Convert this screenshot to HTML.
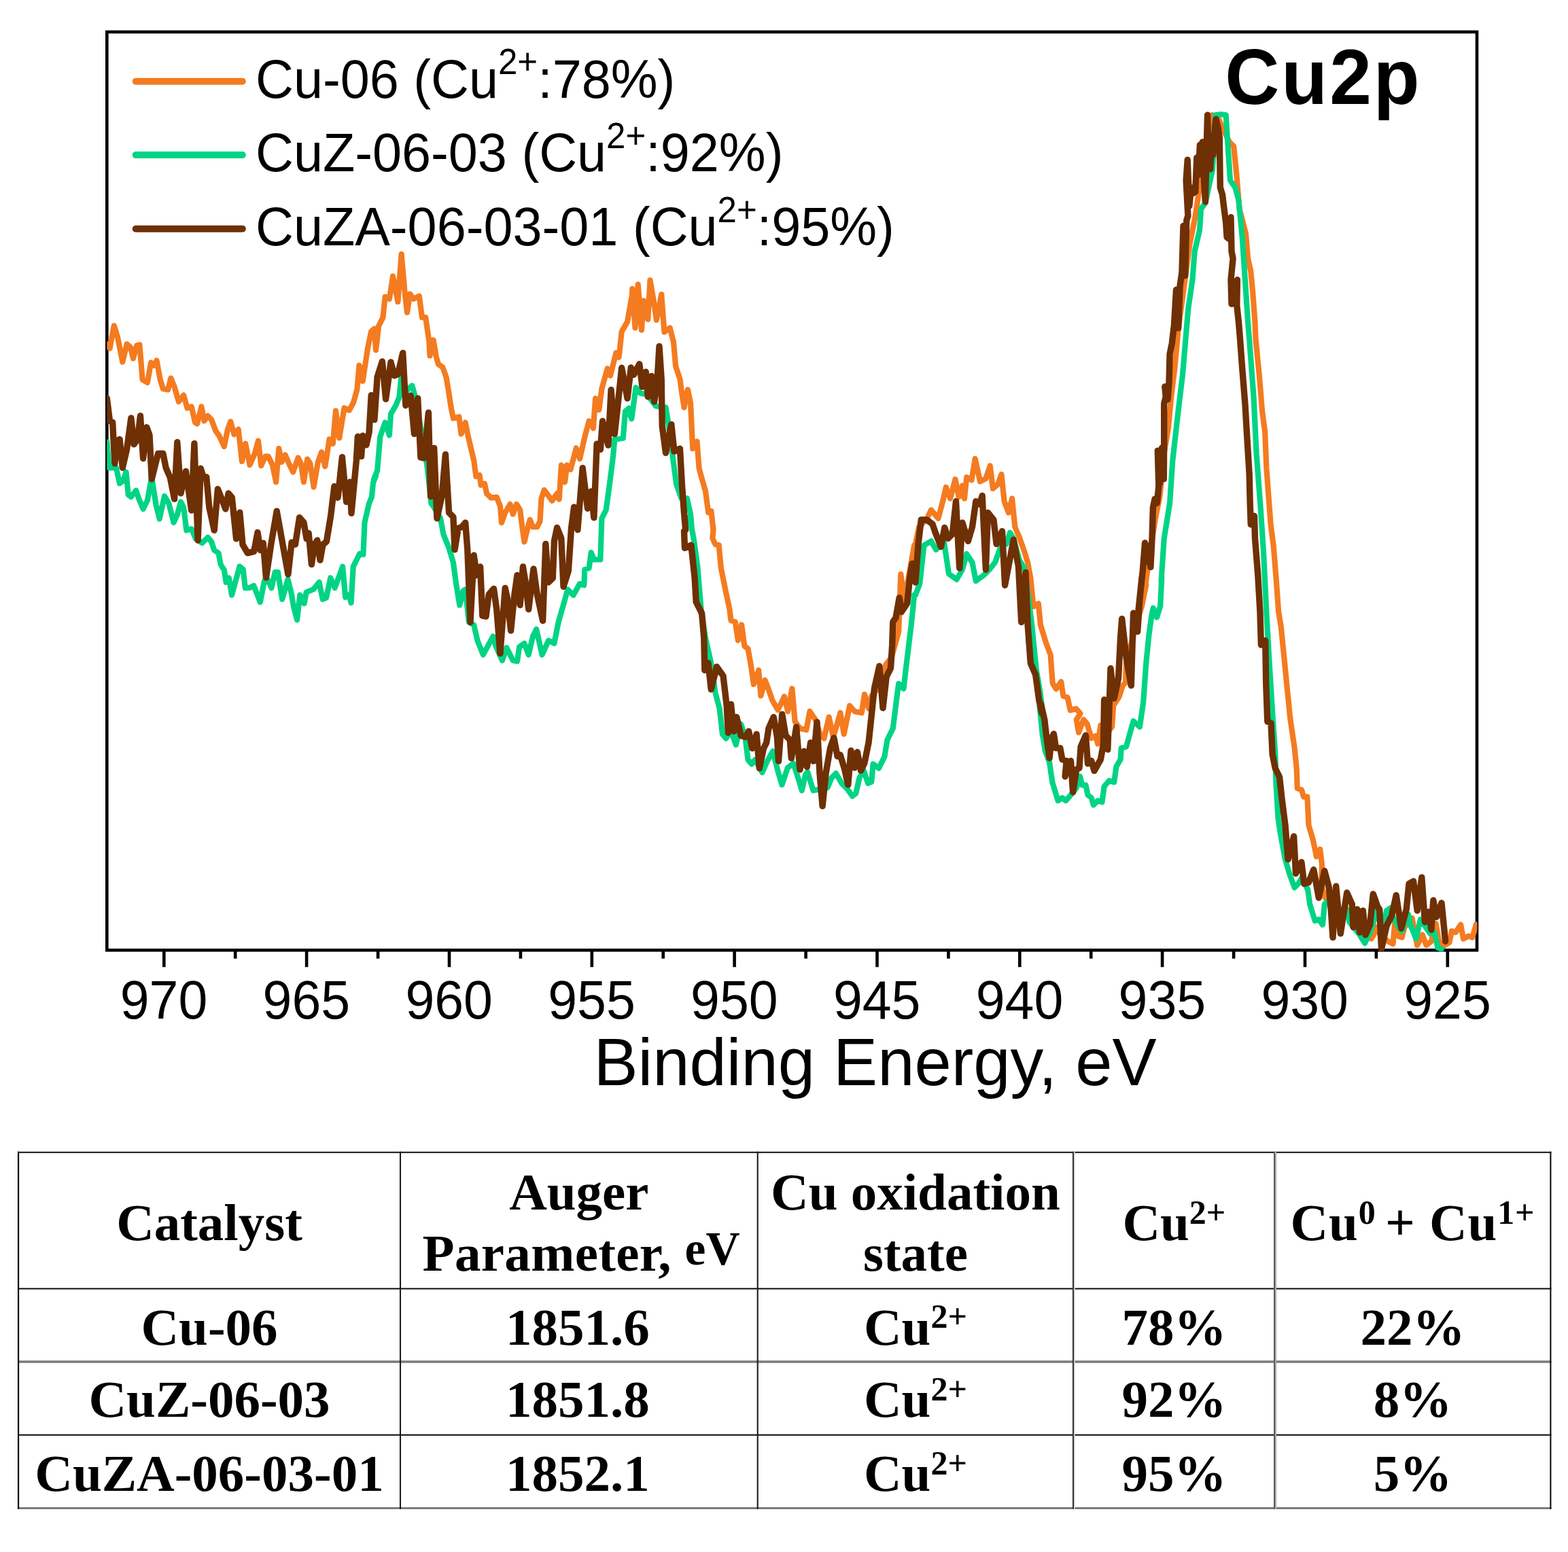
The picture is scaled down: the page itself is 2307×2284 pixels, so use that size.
<!DOCTYPE html>
<html lang="en"><head><meta charset="utf-8"><title>Cu2p XPS spectra</title>
<style>
html,body{margin:0;padding:0;background:#fff;}
body{width:2307px;height:2284px;position:relative;overflow:hidden;font-family:"Liberation Sans",sans-serif;}
#chart{position:absolute;left:0;top:0;}
#chart text{font-family:"Liberation Sans",sans-serif;fill:#000;}
table{position:absolute;left:27px;top:1695.9px;border-collapse:collapse;border-spacing:0;table-layout:fixed;width:2254.4px;
 font-family:"Liberation Serif",serif;font-weight:bold;font-size:77px;color:#000;}
td,th{border:0;text-align:center;vertical-align:top;padding:0;font-weight:bold;line-height:90.2px;white-space:nowrap;overflow:visible}
th.one{padding-top:58.6px} th.two{padding-top:12.8px}
td:nth-child(2){text-indent:-4px}
tr.r1 td{padding-top:11.2px} tr.r2 td{padding-top:10.3px} tr.r3 td{padding-top:11.2px}
sup{font-size:50px;line-height:0;vertical-align:baseline;position:relative;top:-24.4px}
.ev{font-size:69.5px;position:relative;top:-8.5px}
.ls{letter-spacing:0.35px;position:relative;left:3.5px} .ls2{letter-spacing:0.9px}
</style></head><body>
<svg id="chart" width="2307" height="2284" viewBox="0 0 2307 2284">
<defs><clipPath id="plot"><rect x="157.3" y="47.0" width="2016.2" height="1353.6"/></clipPath></defs>
<rect x="157.3" y="47.0" width="2015.7" height="1351.3" fill="none" stroke="#000" stroke-width="4.6"/>
<g stroke="#000" stroke-width="4.6"><line x1="2129.8" y1="1398.3" x2="2129.8" y2="1423.2"/><line x1="1920.0" y1="1398.3" x2="1920.0" y2="1423.2"/><line x1="1710.1" y1="1398.3" x2="1710.1" y2="1423.2"/><line x1="1500.3" y1="1398.3" x2="1500.3" y2="1423.2"/><line x1="1290.5" y1="1398.3" x2="1290.5" y2="1423.2"/><line x1="1080.6" y1="1398.3" x2="1080.6" y2="1423.2"/><line x1="870.8" y1="1398.3" x2="870.8" y2="1423.2"/><line x1="661.0" y1="1398.3" x2="661.0" y2="1423.2"/><line x1="451.1" y1="1398.3" x2="451.1" y2="1423.2"/><line x1="241.3" y1="1398.3" x2="241.3" y2="1423.2"/><line x1="346.2" y1="1398.3" x2="346.2" y2="1410.7"/><line x1="556.1" y1="1398.3" x2="556.1" y2="1410.7"/><line x1="765.9" y1="1398.3" x2="765.9" y2="1410.7"/><line x1="975.7" y1="1398.3" x2="975.7" y2="1410.7"/><line x1="1185.6" y1="1398.3" x2="1185.6" y2="1410.7"/><line x1="1395.4" y1="1398.3" x2="1395.4" y2="1410.7"/><line x1="1605.2" y1="1398.3" x2="1605.2" y2="1410.7"/><line x1="1815.1" y1="1398.3" x2="1815.1" y2="1410.7"/><line x1="2024.9" y1="1398.3" x2="2024.9" y2="1410.7"/></g>
<g id="curves" clip-path="url(#plot)">
<path d="M157.3,506.5 L161.5,512.7 L167.8,479.3 L173.0,496.0 L180.3,532.6 L186.6,506.5 L191.8,510.6 L196.0,527.4 L201.2,508.5 L205.4,507.5 L209.6,558.7 L216.9,562.9 L222.1,533.6 L226.3,537.8 L230.5,530.5 L235.7,558.7 L239.9,572.3 L247.2,573.4 L251.4,556.6 L256.6,569.2 L262.9,591.1 L270.2,581.7 L275.5,600.5 L281.7,598.5 L287.0,621.5 L290.1,623.5 L296.4,598.5 L300.5,619.4 L305.8,612.0 L311.0,617.3 L317.3,634.0 L322.5,641.3 L329.8,657.0 L335.0,631.9 L339.2,620.4 L344.5,639.2 L350.7,631.9 L356.0,679.0 L361.2,652.8 L367.5,684.2 L374.8,667.5 L380.0,648.6 L384.2,685.2 L390.5,671.6 L394.6,671.6 L400.9,684.2 L406.1,709.3 L410.3,660.1 L414.5,680.0 L419.7,669.6 L426.0,684.2 L431.2,694.6 L438.6,673.7 L442.7,682.1 L446.9,709.3 L452.1,675.8 L456.3,682.1 L461.6,716.6 L467.8,680.0 L473.1,665.4 L478.3,686.3 L484.6,646.5 L489.8,652.8 L494.0,604.7 L499.2,644.5 L506.5,600.5 L513.8,603.7 L520.1,592.2 L525.3,573.4 L528.5,537.8 L533.7,560.8 L541.0,512.7 L546.2,487.6 L550.9,483.8 L553.0,515.2 L557.2,479.6 L563.5,467.1 L566.6,436.8 L572.9,439.9 L578.1,406.5 L585.4,444.1 L590.6,374.0 L595.9,433.6 L599.0,459.8 L603.2,432.6 L608.4,439.9 L616.8,435.7 L621.0,467.1 L626.2,467.1 L631.4,502.6 L632.5,523.5 L637.7,500.5 L641.9,525.6 L645.0,536.1 L651.3,540.3 L656.5,554.9 L660.7,580.0 L663.8,600.9 L667.0,615.6 L675.3,613.5 L678.5,638.6 L684.7,621.8 L688.9,642.7 L697.3,678.3 L700.4,701.3 L705.6,699.2 L707.7,713.8 L713.0,711.7 L716.1,726.4 L722.4,732.6 L730.7,731.6 L736.0,745.2 L738.0,769.2 L743.2,754.5 L750.5,742.0 L754.7,756.6 L760.0,742.0 L765.2,750.4 L768.3,775.5 L771.5,797.4 L776.7,775.5 L779.8,765.0 L784.0,775.5 L790.3,775.5 L794.5,767.1 L796.5,733.6 L800.7,721.1 L812.3,736.8 L819.6,726.4 L822.7,734.7 L825.9,684.6 L831.1,709.6 L834.2,684.6 L839.5,690.8 L847.8,659.5 L853.1,675.1 L860.4,642.7 L866.6,619.7 L872.9,630.2 L876.1,586.3 L881.3,603.0 L885.5,571.6 L893.8,542.4 L898.0,552.8 L906.4,519.4 L910.6,525.6 L914.7,488.0 L923.1,473.4 L930.0,433.6 L930.3,425.0 L934.5,482.5 L938.7,418.7 L943.9,485.6 L947.0,442.7 L953.3,469.9 L956.5,412.4 L961.7,442.7 L965.9,471.0 L973.2,433.3 L977.4,488.7 L985.7,482.5 L991.0,503.4 L994.1,538.9 L1000.4,557.7 L1003.5,580.7 L1006.6,599.6 L1011.9,573.4 L1016.0,593.3 L1019.2,660.2 L1025.5,649.7 L1028.6,689.5 L1033.8,708.3 L1038.0,722.9 L1042.2,754.3 L1046.4,752.2 L1049.5,780.0 L1048.3,791.8 L1052.5,801.2 L1057.7,802.3 L1060.8,835.7 L1067.1,867.1 L1073.4,896.4 L1075.5,913.1 L1081.7,915.2 L1085.9,942.4 L1091.1,919.4 L1095.3,950.7 L1100.5,954.9 L1104.7,977.9 L1108.9,1007.2 L1116.2,986.3 L1119.4,1023.9 L1125.6,1000.9 L1131.9,1017.6 L1136.1,1030.2 L1144.5,1044.8 L1150.7,1032.3 L1153.9,1025.0 L1159.1,1046.9 L1165.4,1013.5 L1169.6,1061.6 L1176.9,1072.0 L1186.3,1074.1 L1191.5,1046.9 L1199.9,1059.5 L1207.2,1082.5 L1212.4,1086.6 L1219.7,1055.3 L1226.0,1084.6 L1236.5,1049.0 L1241.7,1080.4 L1250.1,1038.6 L1257.4,1046.9 L1267.8,1049.0 L1272.0,1021.8 L1278.3,1042.7 L1282.5,1023.9 L1292.9,1011.4 L1303.4,977.9 L1311.7,967.5 L1322.2,929.8 L1325.3,845.1 L1330.6,883.8 L1338.9,837.8 L1345.2,802.3 L1346.9,800.5 L1352.1,775.5 L1363.6,764.0 L1369.9,750.4 L1380.4,762.9 L1386.6,739.9 L1391.9,716.9 L1398.1,733.6 L1405.5,705.4 L1410.7,731.5 L1415.9,714.8 L1419.0,733.6 L1422.2,702.3 L1429.5,706.5 L1434.7,675.1 L1442.0,708.5 L1450.4,704.4 L1456.7,685.5 L1460.9,719.0 L1468.2,712.7 L1473.4,698.1 L1477.6,737.8 L1483.9,754.5 L1489.1,733.6 L1493.3,775.5 L1499.6,790.1 L1506.9,811.0 L1512.1,827.7 L1516.3,850.7 L1520.5,892.6 L1527.8,888.4 L1530.9,919.7 L1539.3,946.9 L1545.6,963.6 L1548.7,1005.5 L1553.9,1013.8 L1561.2,1003.4 L1564.4,1024.3 L1570.6,1026.4 L1574.8,1045.2 L1583.2,1043.1 L1589.5,1050.0 L1583.8,1059.1 L1587.0,1077.9 L1594.3,1059.1 L1599.5,1065.4 L1605.8,1086.3 L1612.0,1083.1 L1615.2,1094.6 L1619.4,1067.5 L1627.7,1080.0 L1636.1,1069.6 L1638.2,1038.2 L1646.5,1025.6 L1651.8,1008.9 L1656.0,1004.7 L1657.0,973.4 L1665.4,944.1 L1671.6,919.0 L1680.0,891.8 L1686.3,860.5 L1685.5,859.6 L1691.8,813.6 L1700.2,761.4 L1706.5,730.0 L1712.7,667.3 L1719.0,629.6 L1723.2,583.6 L1728.4,541.8 L1733.6,485.0 L1742.0,422.3 L1750.4,359.6 L1758.7,317.7 L1764.0,282.2 L1771.3,234.1 L1777.5,192.3 L1783.8,169.3 L1792.2,173.5 L1800.5,192.3 L1808.9,209.0 L1815.2,215.3 L1819.4,257.1 L1823.5,307.3 L1833.0,343.9 L1836.1,380.5 L1840.3,399.3 L1843.4,432.7 L1846.5,474.6 L1847.6,500.0 L1852.8,552.3 L1857.0,604.5 L1861.2,635.9 L1863.3,688.2 L1869.6,771.8 L1873.7,803.2 L1877.9,855.5 L1881.1,900.0 L1884.7,921.8 L1888.9,963.6 L1894.1,1015.9 L1898.3,1057.7 L1904.5,1099.6 L1907.7,1130.9 L1908.7,1160.2 L1915.0,1162.3 L1918.1,1172.7 L1923.4,1172.7 L1925.5,1214.6 L1931.7,1235.5 L1937.0,1260.6 L1942.2,1249.7 L1945.0,1272.3 L1944.1,1300.5 L1948.8,1319.4 L1955.4,1328.8 L1961.0,1345.7 L1966.7,1338.2 L1972.3,1347.6 L1981.7,1338.2 L1989.3,1347.6 L1996.8,1353.2 L2004.3,1357.0 L2010.0,1360.8 L2014.7,1368.3 L2017.5,1381.5 L2021.2,1375.8 L2025.0,1364.5 L2030.7,1375.8 L2041.9,1385.2 L2049.5,1389.0 L2052.3,1357.0 L2057.0,1377.7 L2062.7,1379.6 L2066.4,1364.5 L2077.7,1351.4 L2085.2,1390.9 L2092.8,1375.8 L2098.4,1390.9 L2105.9,1385.2 L2112.5,1358.9 L2117.2,1385.2 L2122.9,1392.8 L2132.3,1387.1 L2136.0,1370.2 L2141.7,1372.1 L2149.2,1360.8 L2153.0,1381.5 L2160.5,1377.7 L2166.2,1379.6 L2171.8,1360.8" fill="none" stroke="#F47B20" stroke-width="8.2" stroke-linejoin="round" stroke-linecap="round"/>
<path d="M157.3,650.7 L160.5,688.4 L166.7,688.4 L170.9,688.4 L176.1,711.4 L181.4,707.2 L185.5,694.6 L188.7,728.1 L192.9,731.2 L200.2,721.8 L204.4,734.4 L210.6,749.0 L216.9,736.5 L223.2,702.0 L229.5,742.7 L234.7,763.6 L242.0,730.2 L248.3,740.6 L255.6,768.9 L260.8,757.4 L266.0,738.6 L270.2,746.9 L274.4,780.4 L281.7,778.3 L288.0,792.9 L297.4,799.2 L305.8,790.8 L311.0,797.1 L315.2,809.6 L321.5,813.8 L324.6,830.6 L329.8,838.9 L332.6,856.8 L336.8,850.5 L341.0,875.6 L352.5,833.8 L357.7,838.0 L360.8,865.2 L367.1,865.2 L373.4,862.0 L382.8,886.1 L389.0,854.7 L394.3,853.7 L399.5,865.2 L404.7,842.2 L408.9,842.2 L415.2,881.9 L423.5,852.6 L428.8,873.5 L431.9,892.4 L437.1,912.2 L441.3,875.6 L447.6,888.2 L450.7,871.5 L461.2,867.3 L469.6,856.8 L474.8,881.9 L480.0,879.8 L486.3,850.5 L492.6,865.2 L504.1,833.8 L508.2,878.8 L513.5,875.6 L516.6,887.1 L519.7,833.8 L529.1,815.0 L534.4,816.0 L536.5,769.0 L542.7,741.8 L546.9,731.4 L549.0,710.5 L553.2,700.0 L549.9,705.5 L555.1,692.9 L559.3,642.7 L566.6,621.8 L572.9,640.6 L575.0,609.3 L582.3,596.7 L587.5,584.2 L590.6,550.7 L595.9,580.0 L601.1,571.6 L606.3,567.5 L610.5,582.1 L616.8,617.6 L622.0,646.9 L628.3,684.6 L634.5,741.0 L634.5,739.9 L648.1,762.9 L652.3,785.9 L660.6,806.8 L666.9,827.7 L671.1,859.1 L676.3,890.5 L681.5,869.6 L684.7,867.5 L689.9,915.6 L697.2,919.7 L702.5,942.7 L710.8,963.6 L725.5,936.5 L729.6,951.1 L739.0,972.0 L745.3,953.2 L754.7,972.0 L761.0,973.1 L764.1,952.1 L771.5,946.9 L777.7,963.6 L784.0,936.5 L789.2,926.0 L797.6,963.6 L807.0,942.7 L815.4,946.9 L821.6,915.6 L830.0,886.3 L835.2,867.5 L843.6,875.8 L853.0,859.1 L859.3,861.2 L860.3,838.2 L866.6,836.1 L869.7,813.1 L873.9,823.5 L883.3,823.5 L885.4,762.9 L891.7,750.4 L896.9,712.7 L902.1,670.9 L904.3,646.9 L916.8,644.8 L920.0,605.1 L925.2,600.9 L925.1,604.8 L929.3,616.3 L935.5,570.3 L941.8,578.6 L952.3,580.7 L964.8,597.5 L979.5,599.6 L983.6,624.6 L989.9,672.7 L995.1,712.5 L1002.5,733.4 L1010.8,733.4 L1016.0,756.4 L1018.1,780.0 L1014.8,760.5 L1021.1,796.0 L1026.3,833.6 L1031.5,896.4 L1037.8,938.2 L1046.2,975.8 L1052.5,1019.7 L1058.7,1042.7 L1062.9,1080.4 L1068.1,1086.6 L1075.5,1076.2 L1082.8,1096.1 L1090.1,1065.7 L1096.4,1084.6 L1100.5,1118.0 L1105.8,1124.3 L1111.0,1118.0 L1121.5,1136.8 L1128.8,1120.1 L1137.1,1105.5 L1144.3,1134.0 L1150.5,1154.9 L1158.9,1129.8 L1167.3,1123.5 L1173.5,1142.4 L1179.8,1163.3 L1185.0,1140.3 L1188.2,1136.1 L1196.5,1163.3 L1209.1,1161.2 L1217.5,1159.1 L1223.7,1144.5 L1230.0,1138.2 L1238.4,1152.8 L1246.7,1161.2 L1254.1,1171.6 L1259.3,1167.5 L1264.5,1144.5 L1270.8,1134.0 L1277.1,1152.8 L1282.3,1150.7 L1284.6,1124.3 L1292.9,1130.6 L1301.3,1113.8 L1305.5,1088.7 L1313.8,1072.0 L1320.1,1021.8 L1322.2,1006.1 L1329.5,1013.5 L1332.6,986.3 L1341.0,917.3 L1345.2,875.5 L1346.9,875.8 L1353.2,859.1 L1359.5,802.6 L1369.9,796.4 L1377.2,808.9 L1388.7,796.4 L1396.0,844.5 L1407.5,852.8 L1415.9,838.2 L1422.2,815.2 L1430.5,827.7 L1435.8,854.9 L1447.3,846.5 L1455.6,838.2 L1464.0,827.7 L1472.4,804.7 L1480.7,800.5 L1486.0,783.8 L1491.2,792.2 L1499.6,823.5 L1507.9,838.2 L1518.4,921.8 L1524.6,984.6 L1530.9,1022.2 L1534.1,1050.0 L1529.5,1038.2 L1533.6,1080.0 L1537.8,1105.1 L1544.1,1121.8 L1548.3,1151.1 L1556.6,1178.3 L1562.9,1174.1 L1568.1,1178.3 L1575.5,1169.9 L1583.8,1159.5 L1589.0,1142.7 L1592.2,1155.3 L1597.4,1155.3 L1600.5,1169.9 L1605.8,1174.1 L1608.9,1184.6 L1615.2,1178.3 L1621.5,1180.4 L1624.6,1157.4 L1631.9,1149.0 L1639.2,1151.1 L1642.4,1128.1 L1648.6,1117.6 L1649.7,1100.9 L1657.0,1098.8 L1667.5,1061.2 L1676.9,1069.6 L1682.1,1034.0 L1686.3,975.5 L1690.5,933.6 L1694.6,904.4 L1696.7,895.0 L1702.0,908.5 L1707.2,891.8 L1709.3,850.0 L1708.5,855.5 L1712.7,792.7 L1721.1,740.5 L1725.3,677.7 L1733.6,604.5 L1739.9,552.3 L1748.3,453.6 L1754.5,411.8 L1757.7,370.0 L1765.0,338.6 L1767.1,307.3 L1773.4,298.9 L1779.6,269.6 L1783.8,250.8 L1785.9,223.6 L1788.0,169.3 L1796.4,168.2 L1803.7,169.3 L1805.8,202.7 L1807.9,234.1 L1810.0,265.5 L1817.3,275.9 L1822.5,294.7 L1827.7,349.1 L1831.9,411.8 L1836.1,474.6 L1838.2,500.0 L1844.5,583.6 L1848.6,667.3 L1854.9,750.9 L1859.1,813.6 L1863.3,900.0 L1866.9,963.6 L1872.1,1047.3 L1876.3,1110.0 L1877.4,1151.8 L1880.5,1204.1 L1883.6,1225.0 L1890.5,1262.9 L1897.0,1285.5 L1904.6,1306.2 L1910.2,1300.5 L1915.9,1291.1 L1924.3,1310.0 L1927.2,1330.7 L1934.7,1355.1 L1940.3,1353.2 L1946.0,1360.8 L1948.8,1330.7 L1952.6,1326.9 L1962.9,1338.2 L1981.7,1340.1 L1985.5,1357.0 L2000.5,1375.8 L2008.1,1388.1 L2015.6,1372.1 L2022.2,1353.2 L2024.1,1340.1 L2036.3,1357.0 L2040.1,1340.1 L2045.7,1336.3 L2049.5,1349.5 L2057.0,1362.7 L2062.7,1370.2 L2072.1,1345.7 L2075.8,1362.7 L2083.4,1381.5 L2089.9,1353.2 L2096.5,1362.7 L2104.1,1373.9 L2110.6,1372.1 L2115.3,1394.6 L2121.0,1396.5" fill="none" stroke="#00D484" stroke-width="8.2" stroke-linejoin="round" stroke-linecap="round"/>
<path d="M157.3,585.9 L161.5,619.4 L165.7,621.5 L168.8,682.1 L173.0,648.6 L176.1,646.5 L180.3,688.4 L186.6,661.2 L192.9,615.2 L197.0,653.9 L202.3,646.5 L206.5,612.0 L210.6,674.8 L215.9,628.8 L220.0,640.3 L223.2,705.1 L228.4,684.2 L232.6,667.5 L239.9,667.5 L244.1,688.4 L250.4,703.0 L256.6,734.4 L260.8,650.7 L266.0,726.0 L273.4,693.6 L277.5,721.8 L281.7,751.1 L285.9,652.8 L291.1,795.0 L295.3,689.4 L299.5,703.0 L303.7,702.0 L307.9,746.9 L315.2,780.4 L320.4,719.7 L324.6,730.2 L331.9,749.0 L336.1,726.0 L341.3,732.3 L347.6,792.9 L352.8,754.2 L357.0,801.3 L364.3,813.8 L373.7,811.7 L379.0,783.5 L383.1,809.6 L387.3,799.2 L391.5,850.0 L398.8,801.3 L407.2,752.1 L414.5,792.9 L423.9,845.2 L429.1,798.1 L434.4,801.3 L440.6,761.6 L446.9,768.9 L451.1,792.9 L454.2,784.6 L458.4,830.6 L462.6,801.3 L466.8,795.0 L471.0,824.3 L475.1,801.3 L480.4,797.1 L486.6,759.5 L491.9,715.6 L497.1,732.3 L503.4,672.7 L509.6,738.6 L514.9,709.3 L517.0,755.3 L524.3,677.9 L526.4,642.4 L531.6,671.6 L533.7,641.3 L538.9,654.9 L543.1,636.1 L546.2,581.7 L550.9,617.6 L555.1,554.9 L562.4,531.9 L567.6,587.3 L575.0,533.0 L580.2,552.8 L585.4,550.7 L592.7,519.4 L596.9,596.7 L604.2,582.1 L609.5,638.6 L614.7,586.3 L618.9,673.1 L624.1,674.1 L630.4,607.2 L633.5,730.6 L638.7,659.5 L642.9,762.9 L650.2,729.5 L655.4,668.8 L660.6,754.5 L666.9,760.8 L669.0,808.9 L674.2,777.5 L679.5,775.5 L684.7,769.2 L687.8,808.9 L692.0,915.6 L697.2,817.3 L701.4,846.5 L706.6,834.0 L709.8,906.1 L715.0,907.2 L719.2,874.8 L726.5,866.4 L730.7,896.7 L735.9,961.6 L743.2,865.4 L746.4,880.0 L751.6,928.1 L756.8,875.8 L761.0,846.5 L765.2,890.5 L769.4,834.0 L773.5,859.1 L777.7,896.7 L785.0,837.1 L790.3,874.8 L798.6,913.5 L802.8,800.5 L807.0,857.0 L813.3,850.7 L815.4,796.4 L819.6,776.5 L825.8,792.2 L829.0,863.3 L836.3,840.3 L840.5,777.5 L844.6,746.2 L849.9,779.6 L857.2,688.7 L864.5,748.3 L869.7,723.2 L873.9,761.9 L878.1,653.2 L883.4,661.6 L886.5,619.7 L894.9,655.3 L899.1,573.7 L904.3,638.6 L908.5,600.9 L914.7,541.3 L923.1,586.3 L928.3,541.3 L928.2,541.0 L932.4,551.5 L940.8,535.8 L945.0,569.2 L950.2,547.3 L953.3,583.9 L958.5,553.5 L962.7,591.2 L966.9,561.9 L970.0,509.6 L973.2,557.7 L974.2,626.7 L979.5,666.5 L987.8,624.6 L992.0,664.4 L1000.4,660.2 L1003.5,714.6 L1006.6,756.4 L1008.7,780.0 L1006.5,781.4 L1007.5,806.5 L1016.9,802.3 L1022.1,850.4 L1024.2,885.9 L1032.6,902.6 L1035.7,938.2 L1036.8,986.3 L1042.0,975.8 L1046.2,1014.5 L1054.5,981.1 L1064.0,994.6 L1069.2,1038.6 L1071.3,1078.3 L1075.5,1036.5 L1079.6,1076.2 L1083.8,1055.3 L1090.1,1082.5 L1096.4,1084.6 L1101.6,1076.2 L1106.8,1101.3 L1113.1,1080.4 L1117.3,1130.6 L1123.5,1101.3 L1127.7,1092.9 L1130.9,1072.0 L1138.2,1055.3 L1143.4,1084.6 L1145.5,1120.1 L1150.7,1051.1 L1156.0,1082.5 L1162.2,1088.7 L1164.3,1115.9 L1171.6,1069.9 L1176.9,1132.6 L1183.1,1105.5 L1187.3,1128.5 L1192.6,1092.9 L1196.7,1120.1 L1202.0,1062.6 L1206.0,1138.2 L1210.1,1186.3 L1215.4,1136.1 L1221.6,1100.5 L1226.9,1085.9 L1232.1,1113.1 L1236.3,1111.0 L1242.6,1131.9 L1247.8,1154.9 L1252.0,1104.7 L1257.2,1129.8 L1261.4,1106.8 L1266.6,1134.0 L1271.8,1123.5 L1278.1,1092.2 L1286.5,1012.7 L1293.8,980.3 L1299.0,1042.0 L1304.2,996.0 L1310.5,983.5 L1312.6,950.0 L1313.8,915.2 L1318.0,908.9 L1323.2,879.6 L1326.4,900.5 L1334.7,888.0 L1338.9,848.3 L1342.1,829.5 L1346.2,852.5 L1346.9,857.0 L1351.1,800.5 L1355.3,765.0 L1363.6,765.0 L1372.0,771.3 L1376.2,783.8 L1384.5,804.7 L1389.8,776.5 L1395.0,792.2 L1401.3,785.9 L1406.5,737.8 L1411.7,836.1 L1415.9,769.2 L1424.3,796.4 L1430.5,775.5 L1435.8,737.8 L1441.0,742.0 L1445.2,729.5 L1450.4,838.2 L1453.5,754.5 L1461.9,765.0 L1466.1,800.5 L1474.5,781.7 L1478.6,861.2 L1491.2,794.3 L1498.5,834.0 L1502.7,915.6 L1509.0,842.4 L1512.1,919.7 L1516.3,976.2 L1523.6,992.9 L1528.8,1030.6 L1533.0,1050.0 L1531.5,1036.1 L1536.8,1059.1 L1539.9,1086.3 L1544.1,1115.6 L1547.2,1086.3 L1550.4,1080.0 L1553.5,1100.9 L1559.8,1100.9 L1562.9,1117.6 L1569.2,1119.7 L1567.1,1142.7 L1575.5,1119.7 L1578.6,1165.7 L1583.8,1132.3 L1588.0,1130.2 L1590.1,1098.8 L1597.4,1082.1 L1600.5,1123.9 L1605.8,1119.7 L1610.0,1134.4 L1619.4,1117.6 L1623.5,1094.6 L1624.6,1029.8 L1629.8,1103.0 L1634.0,983.8 L1639.2,1027.7 L1645.5,998.5 L1648.6,937.8 L1650.7,910.6 L1657.0,967.1 L1664.3,1008.9 L1667.5,902.3 L1673.7,929.5 L1676.9,881.4 L1680.0,850.0 L1675.1,897.3 L1678.2,868.0 L1681.4,838.7 L1684.5,799.0 L1687.6,826.2 L1690.8,803.2 L1692.9,834.6 L1695.0,792.7 L1696.4,746.7 L1699.1,734.2 L1702.3,740.5 L1704.8,715.4 L1703.3,663.1 L1706.5,711.2 L1709.6,658.9 L1712.3,704.9 L1712.7,650.5 L1712.7,594.1 L1715.2,583.6 L1713.8,569.0 L1718.0,587.8 L1720.0,562.7 L1721.1,520.9 L1724.2,505.9 L1727.4,478.7 L1730.5,426.5 L1733.6,482.9 L1736.1,420.2 L1738.9,401.4 L1741.0,332.4 L1743.7,405.6 L1745.8,324.0 L1747.9,317.7 L1745.1,265.5 L1747.2,235.1 L1749.9,303.1 L1752.5,275.9 L1755.6,284.3 L1758.7,282.2 L1760.8,232.0 L1763.3,257.1 L1765.4,213.2 L1768.1,244.5 L1769.2,209.0 L1771.7,269.6 L1773.4,296.8 L1775.0,227.8 L1776.5,169.3 L1778.6,240.4 L1780.7,248.7 L1782.8,209.0 L1784.9,227.8 L1787.0,192.3 L1789.0,175.5 L1792.2,188.1 L1794.3,202.7 L1795.3,275.9 L1798.5,286.4 L1800.5,303.1 L1803.7,328.2 L1805.1,349.1 L1807.9,351.2 L1811.0,319.8 L1812.0,370.0 L1814.1,380.5 L1811.0,411.8 L1812.0,447.4 L1816.2,428.6 L1820.4,411.8 L1819.8,449.5 L1822.5,474.6 L1824.6,500.0 L1827.7,541.8 L1831.9,594.1 L1835.0,646.4 L1838.2,698.6 L1839.2,740.5 L1840.3,771.8 L1845.5,759.3 L1846.5,792.7 L1850.7,845.0 L1853.9,900.0 L1855.4,949.0 L1861.7,942.7 L1862.7,1005.5 L1864.8,1061.9 L1870.0,1064.0 L1872.1,1110.0 L1876.3,1130.9 L1882.6,1143.5 L1885.7,1172.7 L1891.0,1214.6 L1895.1,1264.7 L1903.6,1230.9 L1906.5,1285.5 L1914.9,1268.6 L1918.7,1300.5 L1925.3,1298.7 L1932.8,1279.8 L1940.3,1321.2 L1948.8,1281.7 L1955.4,1306.2 L1958.2,1338.2 L1961.0,1379.6 L1965.7,1304.3 L1972.3,1373.9 L1981.7,1313.7 L1989.3,1330.7 L1991.1,1364.5 L1996.8,1338.2 L2000.5,1372.1 L2005.3,1340.1 L2009.0,1375.8 L2015.6,1360.8 L2020.3,1315.6 L2026.9,1334.4 L2029.7,1338.2 L2032.5,1396.5 L2040.1,1362.7 L2047.6,1347.6 L2054.2,1317.5 L2061.7,1366.4 L2069.2,1338.2 L2073.0,1300.5 L2079.6,1296.8 L2085.2,1340.1 L2091.8,1291.1 L2096.5,1357.0 L2102.2,1341.9 L2105.9,1368.3 L2108.8,1325.0 L2113.5,1349.5 L2121.0,1328.8 L2126.6,1385.2" fill="none" stroke="#6E3004" stroke-width="9.4" stroke-linejoin="round" stroke-linecap="round"/>
</g>
<g id="ticklabels">
<text transform="translate(2129.5 1499.4) scale(1 1.036)" font-size="77" text-anchor="middle">925</text>
<text transform="translate(1919.7 1499.4) scale(1 1.036)" font-size="77" text-anchor="middle">930</text>
<text transform="translate(1709.8 1499.4) scale(1 1.036)" font-size="77" text-anchor="middle">935</text>
<text transform="translate(1500 1499.4) scale(1 1.036)" font-size="77" text-anchor="middle">940</text>
<text transform="translate(1290.2 1499.4) scale(1 1.036)" font-size="77" text-anchor="middle">945</text>
<text transform="translate(1080.3 1499.4) scale(1 1.036)" font-size="77" text-anchor="middle">950</text>
<text transform="translate(870.5 1499.4) scale(1 1.036)" font-size="77" text-anchor="middle">955</text>
<text transform="translate(660.7 1499.4) scale(1 1.036)" font-size="77" text-anchor="middle">960</text>
<text transform="translate(450.8 1499.4) scale(1 1.036)" font-size="77" text-anchor="middle">965</text>
<text transform="translate(241 1499.4) scale(1 1.036)" font-size="77" text-anchor="middle">970</text>
</g>
<g id="legend">
<line x1="199.7" y1="119.8" x2="356.8" y2="119.8" stroke="#F47B20" stroke-width="10" stroke-linecap="round"/>
<text transform="translate(376 143.8) scale(1 1.04)" font-size="77.4">Cu-06 (Cu<tspan font-size="51" dy="-33">2+</tspan><tspan dy="33">:78%)</tspan></text>
<line x1="199.7" y1="228.1" x2="356.8" y2="228.1" stroke="#00D484" stroke-width="10" stroke-linecap="round"/>
<text transform="translate(376 252.4) scale(1 1.04)" font-size="77.4">CuZ-06-03 (Cu<tspan font-size="51" dy="-33">2+</tspan><tspan dy="33">:92%)</tspan></text>
<line x1="199.7" y1="336.8" x2="356.8" y2="336.8" stroke="#6E3004" stroke-width="10" stroke-linecap="round"/>
<text transform="translate(376 361) scale(1 1.04)" font-size="77.4">CuZA-06-03-01 (Cu<tspan font-size="51" dy="-33">2+</tspan><tspan dy="33">:95%)</tspan></text>
</g>
<text transform="translate(1802.2 152.7) scale(1 1.038)" font-size="111" font-weight="bold" letter-spacing="3">Cu2p</text>

<text transform="translate(1287.5 1597) scale(1 1.01)" font-size="97.6" text-anchor="middle">Binding Energy, eV</text>

<g id="grid" fill="none">
<line x1="26" y1="1695.9" x2="2282.4" y2="1695.9" stroke="#2a2a2a" stroke-width="2.2"/>
<line x1="26" y1="1896.4" x2="2282.4" y2="1896.4" stroke="#0a0a0a" stroke-width="2"/>
<line x1="26" y1="2004" x2="2282.4" y2="2004" stroke="#7a7a7a" stroke-width="3.6"/>
<line x1="26" y1="2111.85" x2="2282.4" y2="2111.85" stroke="#0a0a0a" stroke-width="2"/>
<line x1="26" y1="2219.5" x2="2282.4" y2="2219.5" stroke="#7b7b7b" stroke-width="3.2"/>
<line x1="27.05" y1="1694.8" x2="27.05" y2="2221.1" stroke="#0d0d0d" stroke-width="2.2"/>
<line x1="589" y1="1694.8" x2="589" y2="2221.1" stroke="#1c1c1c" stroke-width="2.1"/>
<line x1="1114.7" y1="1694.8" x2="1114.7" y2="2221.1" stroke="#1c1c1c" stroke-width="2.1"/>
<line x1="1579" y1="1694.8" x2="1579" y2="2221.1" stroke="#333" stroke-width="2.1"/>
<line x1="1580.8" y1="1694.8" x2="1580.8" y2="2221.1" stroke="#d4d4d4" stroke-width="1.6"/>
<line x1="1875" y1="1694.8" x2="1875" y2="2221.1" stroke="#5a5a5a" stroke-width="2"/>
<line x1="1877" y1="1694.8" x2="1877" y2="2221.1" stroke="#aaa" stroke-width="2"/>
<line x1="2281.4" y1="1694.8" x2="2281.4" y2="2221.1" stroke="#000" stroke-width="2"/>
</g>
</svg>
<table>
<colgroup><col style="width:562px"><col style="width:525.7px"><col style="width:464.5px"><col style="width:296.4px"><col style="width:405.8px"></colgroup>
<thead><tr style="height:200.5px"><th class="one">Catalyst</th><th class="two">Auger<br><span class="ls">Parameter, <span class="ev">eV</span></span></th><th class="two">Cu oxidation<br>state</th><th class="one">Cu<sup>2+</sup></th><th class="one"><span class="ls2">Cu<sup>0 </sup>+ Cu<sup>1+</sup></span></th></tr></thead>
<tbody>
<tr class="r1" style="height:107.6px"><td>Cu-06</td><td>1851.6</td><td>Cu<sup>2+</sup></td><td>78%</td><td>22%</td></tr>
<tr class="r2" style="height:107.85px"><td>CuZ-06-03</td><td>1851.8</td><td>Cu<sup>2+</sup></td><td>92%</td><td>8%</td></tr>
<tr class="r3" style="height:107.65px"><td>CuZA-06-03-01</td><td>1852.1</td><td>Cu<sup>2+</sup></td><td>95%</td><td>5%</td></tr>
</tbody></table>
</body></html>
